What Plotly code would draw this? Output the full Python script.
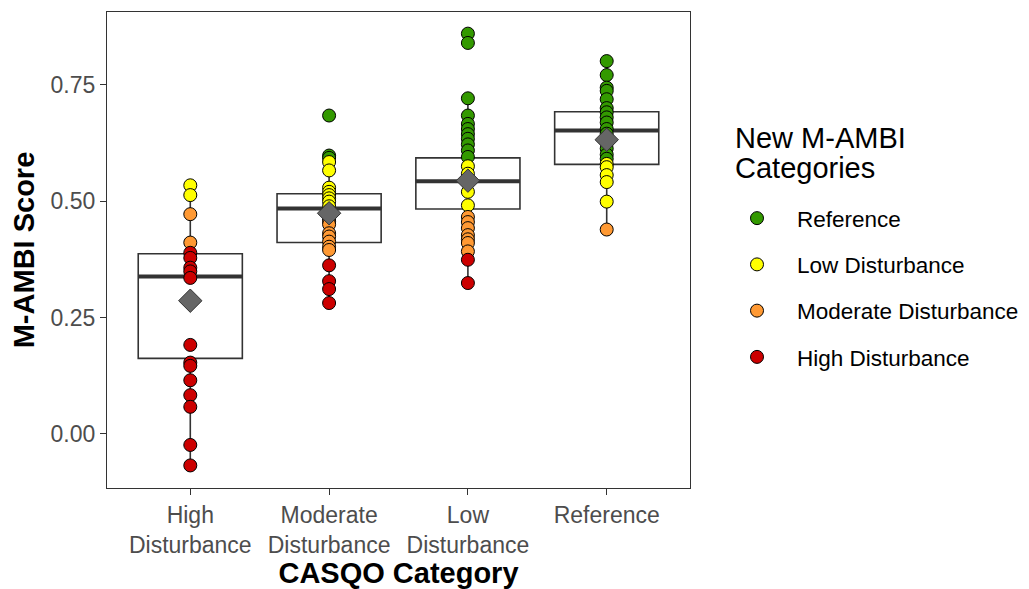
import plotly.graph_objects as go

# ---------------- data ----------------
casqo_labels = ["High<br>Disturbance", "Moderate<br>Disturbance", "Low<br>Disturbance", "Reference"]

# M-AMBI scores per CASQO category with their new M-AMBI class
# class codes: R = Reference, L = Low, M = Moderate, H = High Disturbance
scores_high = [0.534, 0.513, 0.472, 0.411, 0.389, 0.378, 0.357, 0.349, 0.335,
               0.191, 0.153, 0.146, 0.115, 0.083, 0.058, -0.024, -0.068]
class_high = ["L", "L", "M", "M", "H", "H", "H", "H", "H",
              "H", "H", "H", "H", "H", "H", "H", "H"]

scores_moderate = [0.684, 0.598, 0.593, 0.584, 0.566, 0.529, 0.520, 0.513, 0.506,
                   0.499, 0.489, 0.480, 0.462, 0.456, 0.450, 0.431, 0.424, 0.413,
                   0.402, 0.395, 0.362, 0.328, 0.311, 0.281]
class_moderate = ["R", "R", "R", "L", "L", "L", "L", "L", "L",
                  "L", "L", "L", "M", "M", "M", "M", "M", "M",
                  "M", "M", "H", "H", "H", "H"]

scores_low = [0.860, 0.840, 0.721, 0.684, 0.666, 0.655, 0.644, 0.634, 0.622,
              0.609, 0.595, 0.575, 0.559, 0.540, 0.520, 0.491, 0.466, 0.455,
              0.442, 0.427, 0.418, 0.410, 0.392, 0.374, 0.324]
class_low = ["R", "R", "R", "R", "R", "R", "R", "R", "R",
             "R", "R", "L", "L", "L", "L", "L", "M", "M",
             "M", "M", "M", "M", "M", "H", "H"]

scores_reference = [0.801, 0.771, 0.744, 0.737, 0.719, 0.700, 0.691, 0.680, 0.669,
                    0.655, 0.645, 0.637, 0.625, 0.613, 0.600, 0.591, 0.580, 0.573,
                    0.556, 0.541, 0.499, 0.439]
class_reference = ["R", "R", "R", "R", "R", "R", "R", "R", "R",
                   "R", "R", "R", "R", "R", "R", "R", "L", "L",
                   "L", "L", "L", "M"]

# box statistics per CASQO category
box_q1 = [0.162, 0.411, 0.483, 0.579]
box_median = [0.338, 0.484, 0.543, 0.652]
box_q3 = [0.387, 0.516, 0.593, 0.692]
box_lower = [-0.068, 0.281, 0.324, 0.439]
box_upper = [0.534, 0.598, 0.721, 0.801]
group_means = [0.286, 0.474, 0.544, 0.632]

class_codes = ["R", "L", "M", "H"]
class_names = ["Reference", "Low Disturbance", "Moderate Disturbance", "High Disturbance"]
class_colors = ["#339900", "#FFFF00", "#FF9933", "#CC0000"]

# ---------------- figure ----------------
positions = list(range(len(casqo_labels)))
box_width = 0.75
dark = "#333333"

fig = go.Figure()

fig.add_trace(go.Box(
    x=positions, q1=box_q1, median=box_median, q3=box_q3,
    lowerfence=box_lower, upperfence=box_upper,
    width=box_width, whiskerwidth=0, fillcolor="white",
    line=dict(color=dark, width=1.6), boxpoints=False,
    showlegend=False, hoverinfo="skip",
))

# thick median lines
mx, my = [], []
for p, m in zip(positions, box_median):
    mx += [p - box_width / 2, p + box_width / 2, None]
    my += [m, m, None]
fig.add_trace(go.Scatter(x=mx, y=my, mode="lines", line=dict(color=dark, width=4),
                         showlegend=False, hoverinfo="skip"))

all_scores = [scores_high, scores_moderate, scores_low, scores_reference]
all_classes = [class_high, class_moderate, class_low, class_reference]

for rank, (code, name, color) in enumerate(zip(class_codes, class_names, class_colors)):
    xs, ys = [], []
    for p, sc, cl in zip(positions, all_scores, all_classes):
        for s, c in zip(sc, cl):
            if c == code:
                xs.append(p)
                ys.append(s)
    fig.add_trace(go.Scatter(
        x=xs, y=ys, mode="markers", name=name, legendgroup=name, legendrank=rank + 1,
        marker=dict(size=13, color=color, line=dict(color="black", width=1)),
        hoverinfo="skip",
    ))

fig.add_trace(go.Scatter(
    x=positions, y=group_means, mode="markers",
    marker=dict(symbol="diamond", size=18, color="#666666", line=dict(color=dark, width=1)),
    showlegend=False, hoverinfo="skip",
))

font_family = "Liberation Sans, Arial, sans-serif"
# the page body adds an 8px offset; layout below is in figure pixels
off = 8
W, H = 1029 - off, 589 - off
dom_l, dom_r, dom_t, dom_b = 107 - off, 690 - off, 12 - off, 488 - off


def px_x(screen_px):
    return (screen_px - off - dom_l) / (dom_r - dom_l)


def px_y(screen_px):
    return (dom_b - (screen_px - off)) / (dom_b - dom_t)


fig.update_layout(
    width=W, height=H,
    margin=dict(l=dom_l, r=W - dom_r, t=dom_t, b=H - dom_b, autoexpand=False),
    paper_bgcolor="white", plot_bgcolor="white",
    font=dict(family=font_family, color="black"),
    showlegend=True,
    legend=dict(
        x=px_x(717), xanchor="left", y=px_y(197), yanchor="top",
        font=dict(size=22.5, color="black", family=font_family),
        tracegroupgap=14, itemwidth=70, itemsizing="trace", bgcolor="rgba(0,0,0,0)",
    ),
    xaxis=dict(
        range=[-0.6, 3.6], tickmode="array", tickvals=positions, ticktext=casqo_labels,
        showgrid=False, zeroline=False, showline=True, mirror=True, automargin=False,
        linecolor=dark, linewidth=1.3, ticks="outside", ticklen=6, tickwidth=1.3,
        tickcolor=dark, tickfont=dict(size=23, color="#4d4d4d"),
        title=dict(text="<b>CASQO Category</b>", font=dict(size=29, color="black"), standoff=0),
    ),
    yaxis=dict(
        range=[-0.1165, 0.9065], tickmode="array", tickvals=[0, 0.25, 0.5, 0.75],
        ticktext=["0.00", "0.25", "0.50", "0.75"],
        showgrid=False, zeroline=False, showline=True, mirror=True, automargin=False,
        linecolor=dark, linewidth=1.3, ticks="outside", ticklen=6, tickwidth=1.3,
        tickcolor=dark, tickfont=dict(size=23, color="#4d4d4d"),
        title=dict(text="<b>M-AMBI Score</b>", font=dict(size=29, color="black"), standoff=10),
    ),
)

fig.add_annotation(text="New M-AMBI", x=px_x(733), y=px_y(138), xref="paper", yref="paper",
                   xanchor="left", yanchor="middle", showarrow=False,
                   font=dict(size=29, color="black", family=font_family))
fig.add_annotation(text="Categories", x=px_x(733), y=px_y(168), xref="paper", yref="paper",
                   xanchor="left", yanchor="middle", showarrow=False,
                   font=dict(size=29, color="black", family=font_family))

fig.write_html("out.html")
